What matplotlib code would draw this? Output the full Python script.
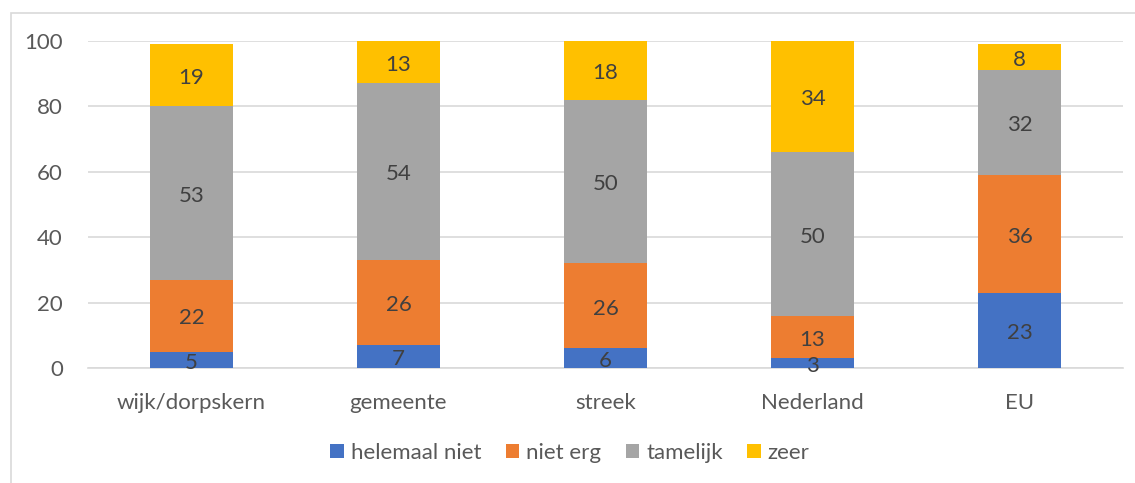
import numpy as np
import matplotlib.pyplot as plt
from matplotlib.patches import Rectangle

plt.rcParams['font.family'] = ['Lato', 'DejaVu Sans']

categories = ['wijk/dorpskern', 'gemeente', 'streek', 'Nederland', 'EU']
series = ['helemaal niet', 'niet erg', 'tamelijk', 'zeer']
helemaal_niet = [5, 7, 6, 3, 23]
niet_erg = [22, 26, 26, 13, 36]
tamelijk = [53, 54, 50, 50, 32]
zeer = [19, 13, 18, 34, 8]
colors = ['#4472C4', '#ED7D31', '#A5A5A5', '#FFC000']

W, H = 1135, 483
fig = plt.figure(figsize=(W / 100, H / 100), dpi=100)
ax = fig.add_axes([88 / W, 115 / H, (1123 - 88) / W, (442.3 - 115) / H])

# chart area border (cropped on the right and bottom)
fig.patches.append(Rectangle((11 / W, -0.1), 1.2, 1 - 13 / H + 0.1,
                             transform=fig.transFigure, fill=False,
                             edgecolor='#D9D9D9', linewidth=1.2))

x = np.arange(len(categories))
bottom = np.zeros(len(categories))
for name, vals, col in zip(series, [helemaal_niet, niet_erg, tamelijk, zeer], colors):
    vals = np.array(vals, dtype=float)
    ax.bar(x, vals, 0.4, bottom=bottom, color=col, label=name, zorder=3)
    for xi, b, v in zip(x, bottom, vals):
        ax.annotate(f'{int(v)}', (xi, b + v / 2), xytext=(0, -2),
                    textcoords='offset points', ha='center', va='center',
                    fontsize=16, color='#404040', zorder=4)
    bottom += vals

ax.set_xlim(-0.5, len(categories) - 0.5)
ax.set_ylim(0, 100)
ax.set_yticks(range(0, 101, 20))
ax.set_xticks(x)
ax.set_xticklabels(categories)
ax.tick_params(axis='both', length=0, labelsize=16, labelcolor='#595959')
ax.tick_params(axis='x', pad=18)
ax.tick_params(axis='y', pad=18)
ax.grid(axis='y', color='#D9D9D9', linewidth=1.2, zorder=0)
for s in ['top', 'right', 'left']:
    ax.spines[s].set_visible(False)
ax.spines['bottom'].set_color('#D9D9D9')
ax.spines['bottom'].set_linewidth(1.2)

fig.legend(loc='center', bbox_to_anchor=(570 / W, 30 / H), ncol=4,
           frameon=False, fontsize=16, labelcolor='#595959',
           handlelength=0.6, handleheight=0.6, handletextpad=0.32,
           columnspacing=1.1)

fig.savefig('out.png', dpi=100)
